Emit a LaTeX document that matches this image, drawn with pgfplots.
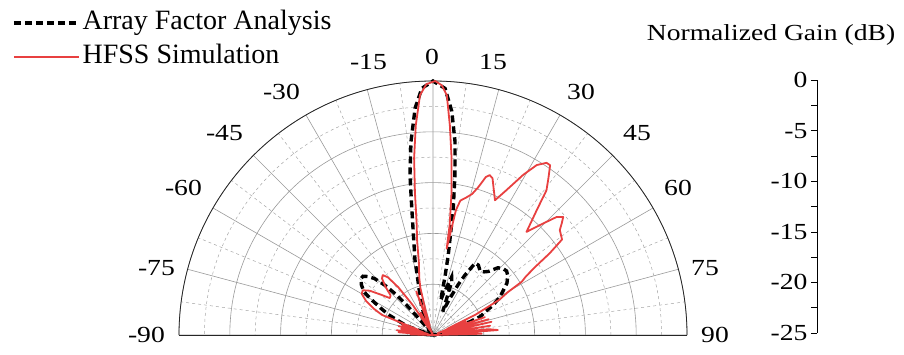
\documentclass[border=0pt]{standalone}
\usepackage{pgfplots}
\pgfplotsset{compat=1.18}
\usepackage{pgfplotstable}
\usepgfplotslibrary{polar}
\usepackage{fontspec}
\setmainfont{Liberation Serif}
\newfontfamily\widefont{Liberation Serif}[FakeStretch=1.2]
\newcommand\tickfont{\widefont\fontsize{23}{27}\selectfont}
\newcommand\legfont{\fontsize{28}{33}\selectfont}
\definecolor{hfssred}{RGB}{232,64,64}

% angle (deg, 0 = broadside, positive clockwise) and normalized gain (dB)
\pgfplotstableread{
t g
-90 -25
-88.5 -22.8
-87 -25
-85.5 -21.6
-84 -24.5
-82.5 -21.4
-81 -24.5
-79 -21.8
-77.5 -24.5
-75.5 -21.5
-74 -24
-72 -21.8
-70.5 -23.5
-68.5 -19.6
-66 -18.6
-63 -17.6
-60 -16.9
-57.5 -16.8
-55 -17.4
-52 -18.6
-49.5 -19.4
-47 -19.3
-44.5 -18.3
-42 -17.5
-40 -17.3
-38 -17.8
-36 -19.2
-34 -21.5
-32 -24.5
-29 -22.5
-27 -25
-23.5 -24
-21 -20.4
-19 -24
-17 -22.5
-15 -20.2
-13.5 -19.2
-11 -17.7
-9.5 -15.5
-8.4 -14
-7.2 -10.8
-6.1 -7.5
-4.7 -4.3
-3.1 -1.35
-1.5 -0.3
0.5 0
2 -0.4
3.3 -1.35
4.6 -4.3
6.0 -7.5
7.4 -10.8
8.6 -14
9.0 -16.4
9.8 -14.5
10.4 -12.5
11.5 -11.5
13.5 -11.1
15.5 -10.6
17 -9.8
18.5 -8.6
19.5 -8.3
20.8 -8.5
22.1 -9.2
24.7 -10.4
26.9 -9.0
29.4 -6.9
31.4 -5.4
33.4 -4.7
34.6 -4.7
36.3 -5.8
38.1 -6.9
39.7 -9.0
42.2 -11.3
44.2 -9.9
46.3 -8.2
47.8 -7.7
49 -8.2
50.4 -8.8
53.5 -9.2
55 -11.0
56.4 -13.0
57.8 -14.2
59 -14.8
60.2 -16.5
62 -17.6
64.5 -20.4
66.5 -23.5
68 -21.5
69.5 -24.5
71 -19.6
72.5 -24
74.2 -19.3
75.8 -24
77.3 -19.1
79 -24
80.8 -19.3
82.5 -24
84 -19.5
85.6 -18.6
87 -24
88.5 -20.2
90 -25
}\hfss

\pgfplotstableread{
t g
-90 -25
-86 -23.5
-82 -25
-78 -23.2
-74 -24.5
-71 -22.3
-68 -21.4
-65.5 -20.2
-63 -19.3
-60.5 -18.2
-58 -17
-55 -16.4
-52 -16.0
-50 -16.0
-48 -16.4
-46 -17
-44 -18.2
-42.5 -19.5
-41.5 -21
-40 -23.5
-37 -25
-33 -23.5
-29 -22.5
-26 -23.8
-22 -22
-19 -21.2
-16 -19.8
-13.5 -17.4
-11.1 -15
-9.5 -12.35
-8.2 -9.1
-6.5 -5.85
-4.5 -2.6
-2.6 -0.7
0 0
2.8 -0.7
4.8 -2.9
6.5 -5.85
7.8 -9.1
9.1 -12.4
10.0 -15.3
10.8 -17.0
11.6 -19.1
12.5 -21.5
14 -20.8
15.5 -20.4
17.8 -19.0
19.3 -19.4
21 -21.5
22.5 -22.5
24.8 -21
26.5 -19.5
28.1 -18.3
30.4 -16.8
33 -16.8
36.6 -17.2
39 -17.0
41.1 -16.7
44 -15.8
46.5 -15.5
49 -15.4
51.5 -15.6
54.9 -16.1
58 -16.9
60.3 -17.4
63.6 -18.4
66.5 -19.5
68.7 -20.0
71 -21.5
74 -23
78 -22.8
82 -24
86 -23.5
90 -25
}\arrayfactor

\tikzset{
  afline/.style={black, line width=3.4pt, line cap=butt, dash pattern=on 7pt off 4pt},
}

\begin{document}
\begin{tikzpicture}
\useasboundingbox (0pt,0pt) rectangle (904pt,354pt);

% half-polar pattern, 0 deg at the top; radius = gain + 25 dB
\begin{polaraxis}[
  at={(433pt,19pt)}, anchor=origin,
  width=508pt, height=508pt, scale only axis,
  xmin=0, xmax=180, ymin=0, ymax=25,
  xtick={0,15,...,180}, minor x tick num=1,
  ytick={0,5,...,25}, minor y tick num=1,
  xticklabels={}, yticklabels={},
  major tick length=0pt, minor tick length=0pt,
  grid=both,
  major grid style={black!40, line width=0.6pt},
  minor grid style={black!35, dashed, line width=0.5pt},
  axis line style={black!85, line width=0.8pt},
  clip=false,
]
\addplot[afline]
  table[x expr={90-\thisrow{t}}, y expr={max(\thisrow{g}+25,0)}] {\arrayfactor};
\addplot[color=hfssred, line width=1.8pt, line join=round]
  table[x expr={90-\thisrow{t}}, y expr={max(\thisrow{g}+25,0)}] {\hfss};
\end{polaraxis}

% gain scale
\begin{axis}[
  at={(817pt,21pt)}, anchor=south west,
  width=10pt, height=253pt, scale only axis,
  xmin=0, xmax=1, ymin=-25, ymax=0,
  axis x line=none, axis y line*=left,
  ytick={-25,-20,...,0}, minor y tick num=1,
  yticklabels={-25,-20,-15,-10,-5,0},
  tick align=outside, major tick length=6pt, minor tick length=6pt,
  tick style={black, line width=0.6pt},
  axis line style={black, line width=0.6pt},
  yticklabel style={font=\tickfont},
]
\end{axis}

% legend
\begin{axis}[
  at={(0pt,0pt)}, anchor=south west,
  width=904pt, height=354pt, scale only axis,
  xmin=0, xmax=904, ymin=0, ymax=354,
  hide axis, clip=false,
  legend cell align=left,
  legend image code/.code={\draw[#1] (0pt,0pt) -- (65pt,0pt);},
  legend style={at={(axis cs:12,344)}, anchor=north west,
    draw=none, fill=none, inner sep=0pt, font=\legfont,
    column sep=2pt, row sep=8pt,
    nodes={inner sep=0pt, text height=19pt, text depth=7pt}},
]
\addlegendimage{afline}
\addlegendentry{Array Factor Analysis}
\addlegendimage{color=hfssred, line width=1.8pt}
\addlegendentry{HFSS Simulation}
\end{axis}

% angle labels
\begin{scope}[every node/.style={font=\tickfont, inner sep=0pt}]
\node[anchor=east] at (165pt,19pt) {-90};
\node[anchor=east] at (175pt,86pt) {-75};
\node[anchor=east] at (202pt,166pt) {-60};
\node[anchor=east] at (243pt,221pt) {-45};
\node[anchor=east] at (300pt,262pt) {-30};
\node[anchor=east] at (387pt,292pt) {-15};
\node[anchor=center] at (432pt,297pt) {0};
\node[anchor=west] at (479pt,292pt) {15};
\node[anchor=west] at (567pt,262pt) {30};
\node[anchor=west] at (623pt,221pt) {45};
\node[anchor=west] at (664pt,166pt) {60};
\node[anchor=west] at (691pt,86pt) {75};
\node[anchor=west] at (701pt,19pt) {90};
\node[anchor=base] at (771pt,313.3pt) {Normalized Gain (dB)};
\end{scope}
\end{tikzpicture}
\end{document}
